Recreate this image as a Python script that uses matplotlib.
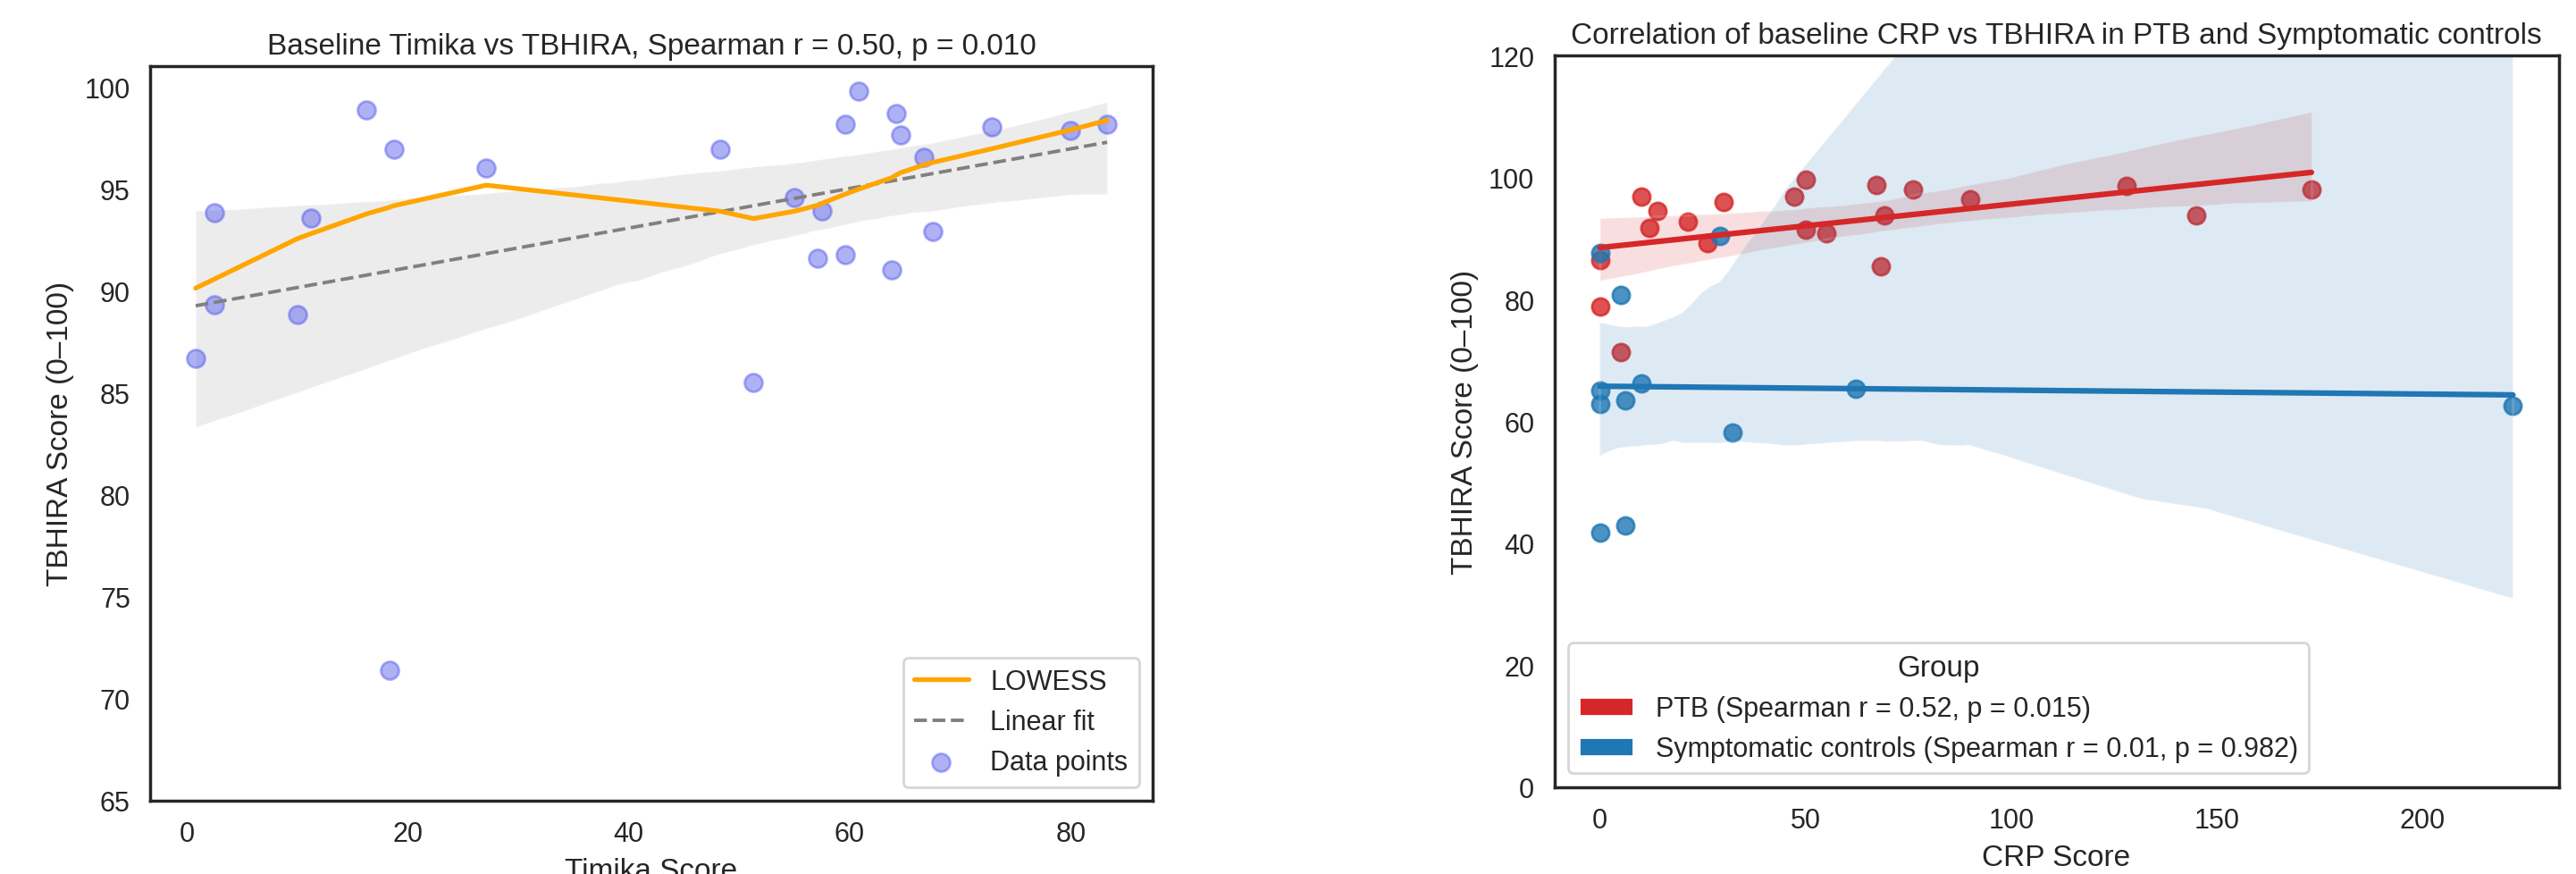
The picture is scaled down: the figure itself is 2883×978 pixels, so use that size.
import numpy as np
import matplotlib
matplotlib.use("Agg")
import matplotlib.pyplot as plt
import seaborn as sns
from matplotlib.patches import Patch

# ---------------- data ----------------
timika_score = [0.82, 2.5, 2.5, 10.0, 11.24, 16.29, 18.33, 18.74, 27.12, 48.3,
                51.3, 55.0, 57.1, 57.5, 59.6, 59.6, 60.85, 63.8, 64.2, 64.6,
                66.7, 67.5, 72.9, 80.0, 83.3]
tbhira_timika = [86.7, 93.83, 89.33, 88.83, 93.56, 98.88, 71.39, 96.97, 96.01, 96.97,
                 85.53, 94.57, 91.59, 93.91, 98.17, 91.78, 99.81, 91.02, 98.69, 97.65,
                 96.56, 92.9, 98.06, 97.87, 98.17]
lowess_fit = [90.14, 90.58, 90.58, 92.56, 92.81, 93.78, 94.1, 94.18, 95.19, 93.91,
              93.55, 93.91, 94.2, 94.3, 94.75, 94.75, 95.0, 95.55, 95.68, 95.8,
              96.18, 96.3, 96.98, 97.9, 98.37]

ptb_crp = [0, 0, 5.1, 10.1, 12.1, 14.1, 21.3, 26.2, 30.1, 47.2, 50.1, 50.1, 55.0,
           67.2, 68.3, 69.2, 76.1, 90.1, 128.1, 145.1, 173.0]
ptb_tbhira = [86.5, 78.8, 71.3, 96.9, 91.7, 94.5, 92.8, 89.2, 96.0, 96.9, 99.7, 91.5,
              90.9, 98.8, 85.5, 93.8, 98.1, 96.5, 98.7, 93.8, 98.0]
ctrl_crp = [0, 5.1, 0, 0, 6.2, 10.1, 29.2, 32.3, 62.2, 0, 6.2, 222.0]
ctrl_tbhira = [87.6, 80.8, 65.0, 62.8, 63.4, 66.2, 90.4, 58.2, 65.3, 41.7, 42.9, 62.5]

group_labels = ["PTB (Spearman r = 0.52, p = 0.015)",
                "Symptomatic controls (Spearman r = 0.01, p = 0.982)"]
left_yticks = [65, 70, 75, 80, 85, 90, 95, 100]
left_xticks = [0, 20, 40, 60, 80]
right_yticks = [0, 20, 40, 60, 80, 100, 120]
right_xticks = [0, 50, 100, 150, 200]

# ---------------- style ----------------
sns.set_theme(style="white", context="notebook")
plt.rcParams["font.family"] = ["Liberation Sans", "DejaVu Sans"]

W, H, DPI = 2883, 979, 200
fig = plt.figure(figsize=(W / DPI, H / DPI), dpi=DPI)

def axes_px(x0, y0, x1, y1):
    return [x0 / W, (H - y1) / H, (x1 - x0) / W, (y1 - y0) / H]

ax1 = fig.add_axes(axes_px(168, 74.5, 1290, 897))
ax2 = fig.add_axes(axes_px(1739.5, 63.3, 2863.5, 881.7))

# ---------------- left panel ----------------
sc = ax1.scatter(timika_score, tbhira_timika, s=52, color="#4d54eb", alpha=0.45,
                 linewidths=1.0, zorder=2)
sns.regplot(x=np.array(timika_score), y=np.array(tbhira_timika), ax=ax1,
            scatter=False, color="gray", ci=95, seed=3,
            line_kws=dict(linestyle="--", linewidth=1.4, zorder=3))
lin_line = ax1.lines[-1]
order = np.argsort(timika_score, kind="stable")
lw_line, = ax1.plot(np.array(timika_score)[order], lowess_fit, color="orange",
                    linewidth=1.9, zorder=4)
ax1.legend([lw_line, lin_line, sc], ["LOWESS", "Linear fit", "Data points"],
           loc="lower right", fontsize=11)
ax1.set_ylim(65, 101.05)
ax1.set_yticks(left_yticks)
ax1.set_xticks(left_xticks)
ax1.set_title("Baseline Timika vs TBHIRA, Spearman r = 0.50, p = 0.010",
              fontsize=12, pad=5)
ax1.set_xlabel("Timika Score", fontsize=12)
ax1.set_ylabel("TBHIRA Score (0\u2013100)", fontsize=12)

# ---------------- right panel ----------------
sns.regplot(x=np.array(ptb_crp), y=np.array(ptb_tbhira), ax=ax2, color="#d62728",
            ci=95, seed=1, scatter_kws=dict(s=48))
sns.regplot(x=np.array(ctrl_crp), y=np.array(ctrl_tbhira), ax=ax2, color="#1f77b4",
            ci=95, seed=1, scatter_kws=dict(s=48))
ax2.set_ylim(0, 120)
ax2.set_yticks(right_yticks)
ax2.set_xticks(right_xticks)
ax2.set_title("Correlation of baseline CRP vs TBHIRA in PTB and Symptomatic controls",
              fontsize=12, pad=5)
ax2.set_xlabel("CRP Score", fontsize=12)
ax2.set_ylabel("TBHIRA Score (0\u2013100)", fontsize=12)
handles = [Patch(facecolor="#d62728", edgecolor="white", label=group_labels[0]),
           Patch(facecolor="#1f77b4", edgecolor="white", label=group_labels[1])]
ax2.legend(handles=handles, title="Group", loc="lower left", fontsize=11,
           title_fontsize=12)

for ax in (ax1, ax2):
    ax.tick_params(axis="both", length=0, pad=8, labelsize=11)
    for s in ax.spines.values():
        s.set_color("#262626")
        s.set_linewidth(1.25)

fig.savefig("out.png", dpi=DPI)
